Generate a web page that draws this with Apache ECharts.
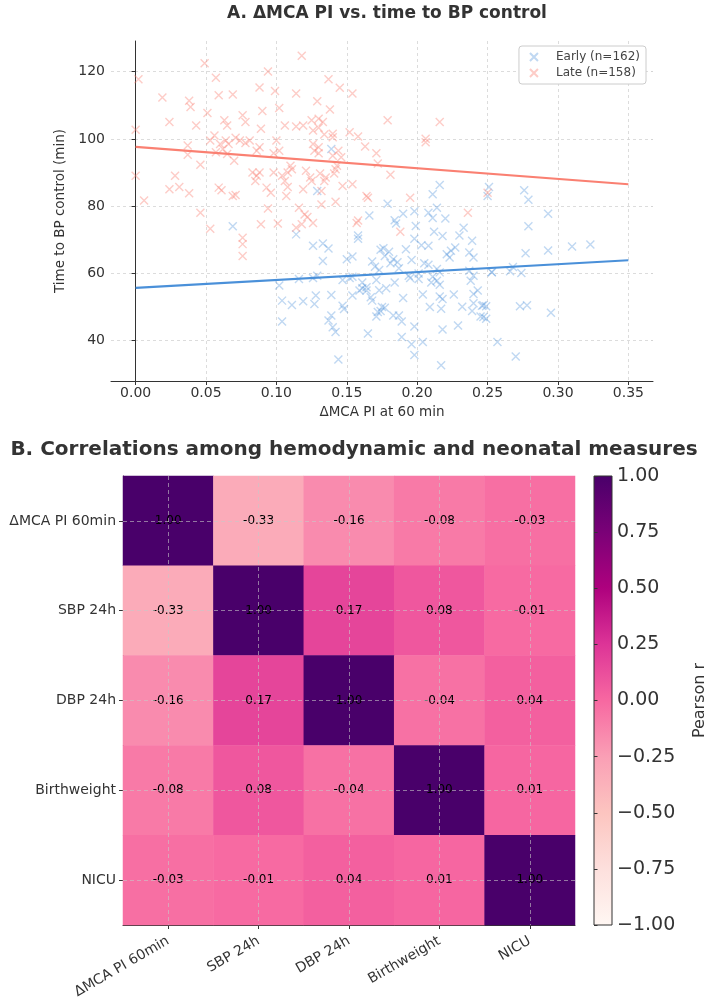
<!DOCTYPE html>
<html>
<head>
<meta charset="utf-8">
<script src="https://cdn.jsdelivr.net/npm/echarts@6/dist/echarts.min.js"></script>
<style>
  html, body { margin: 0; padding: 0; background: #fff; }
  #chart { width: 709px; height: 1002px; }
</style>
</head>
<body>
<div id="chart"></div>
<script>
// ---- panel A data: [ΔMCA PI at 60 min, time to BP control (min)]
const earlyPts = [
  [0.129, 84.5], [0.139, 97.0], [0.216, 86.3], [0.211, 83.5], [0.251, 85.7], [0.250, 83.0],
  [0.069, 74.0], [0.114, 71.6], [0.102, 56.4], [0.104, 51.9], [0.111, 50.6], [0.104, 45.7],
  [0.179, 80.7], [0.166, 77.2], [0.184, 75.8], [0.185, 74.8], [0.190, 77.7], [0.199, 74.1],
  [0.198, 78.5], [0.208, 78.0], [0.214, 79.5], [0.211, 76.5], [0.220, 76.3], [0.233, 73.6],
  [0.212, 72.4], [0.218, 71.1], [0.230, 71.3], [0.198, 70.3], [0.158, 71.3], [0.158, 70.3],
  [0.126, 68.2], [0.133, 68.9], [0.137, 67.4], [0.133, 63.7], [0.150, 64.2], [0.154, 65.0],
  [0.176, 67.5], [0.174, 67.0], [0.180, 66.4], [0.183, 64.2], [0.181, 63.0], [0.186, 63.3],
  [0.187, 61.5], [0.192, 67.2], [0.196, 64.0], [0.168, 63.5], [0.170, 62.0], [0.173, 61.0],
  [0.177, 65.2], [0.205, 63.0], [0.208, 62.6], [0.203, 68.4], [0.208, 68.2], [0.214, 61.3],
  [0.216, 60.3], [0.211, 59.0], [0.214, 57.8], [0.216, 56.6], [0.221, 65.7], [0.224, 66.7],
  [0.227, 67.7], [0.223, 64.7], [0.239, 69.7], [0.237, 66.2], [0.240, 64.7], [0.237, 60.8],
  [0.240, 59.3], [0.238, 57.8], [0.253, 60.3], [0.243, 54.9], [0.240, 53.9], [0.226, 53.7],
  [0.232, 50.1], [0.240, 51.1], [0.246, 50.4], [0.239, 48.8], [0.245, 47.2], [0.229, 44.5],
  [0.218, 43.3], [0.217, 32.7], [0.209, 50.0], [0.217, 49.5], [0.216, 53.1], [0.218, 52.4],
  [0.204, 53.7], [0.201, 58.3], [0.201, 60.0], [0.195, 58.6], [0.194, 59.3], [0.190, 52.7],
  [0.183, 47.5], [0.187, 47.5], [0.189, 45.7], [0.198, 44.2], [0.198, 35.7], [0.196, 38.9],
  [0.204, 39.6], [0.189, 41.1], [0.174, 48.8], [0.175, 50.0], [0.177, 49.8], [0.171, 47.2],
  [0.172, 48.5], [0.168, 51.9], [0.167, 52.9], [0.164, 55.9], [0.164, 54.9], [0.161, 57.3],
  [0.159, 54.9], [0.154, 53.4], [0.147, 50.4], [0.148, 49.4], [0.139, 47.5], [0.137, 46.0],
  [0.140, 44.0], [0.142, 42.6], [0.165, 42.1], [0.144, 34.4], [0.127, 50.9], [0.128, 53.4],
  [0.119, 51.7], [0.139, 53.6], [0.147, 58.0], [0.152, 58.6], [0.116, 58.3], [0.129, 59.3],
  [0.126, 58.6], [0.171, 58.0], [0.154, 59.0], [0.161, 55.6], [0.173, 55.0], [0.178, 55.6],
  [0.184, 57.3], [0.210, 57.3], [0.276, 84.7], [0.279, 81.9], [0.293, 77.7], [0.279, 74.0],
  [0.277, 66.0], [0.293, 66.8], [0.310, 68.0], [0.323, 68.6], [0.253, 60.4], [0.266, 60.6],
  [0.268, 61.9], [0.274, 60.1], [0.247, 50.5], [0.249, 50.2], [0.247, 47.0], [0.249, 46.5],
  [0.273, 50.2], [0.278, 50.5], [0.295, 48.3], [0.257, 39.6], [0.270, 35.3]
];
const latePts = [
  [0.002, 117.7], [0.049, 122.5], [0.118, 124.7], [0.057, 118.2], [0.094, 120.0], [0.019, 112.3],
  [0.038, 111.3], [0.039, 109.5], [0.059, 113.0], [0.069, 113.2], [0.088, 115.3], [0.099, 114.2],
  [0.114, 113.5], [0.129, 111.2], [0.051, 107.7], [0.090, 108.3], [0.102, 109.2], [0.076, 107.0],
  [0.024, 105.0], [0.043, 104.0], [0.063, 105.5], [0.065, 104.0], [0.078, 105.0], [0.089, 103.0],
  [0.106, 104.0], [0.114, 103.7], [0.119, 104.0], [0.125, 105.5], [0.126, 102.5], [0.130, 103.3],
  [0.000, 102.7], [0.053, 99.5], [0.056, 101.0], [0.060, 98.5], [0.064, 99.5], [0.066, 98.5],
  [0.071, 100.3], [0.074, 99.5], [0.078, 98.8], [0.081, 99.5], [0.100, 99.5], [0.102, 96.5],
  [0.037, 98.0], [0.037, 95.3], [0.057, 96.0], [0.062, 97.0], [0.065, 95.5], [0.070, 93.5],
  [0.046, 92.3], [0.086, 96.5], [0.088, 97.5], [0.098, 95.7], [0.126, 98.5], [0.127, 96.5],
  [0.130, 95.7], [0.000, 89.0], [0.028, 89.0], [0.024, 85.0], [0.031, 85.7], [0.038, 83.8],
  [0.059, 85.5], [0.061, 84.7], [0.069, 83.0], [0.071, 83.3], [0.083, 90.0], [0.086, 89.0],
  [0.085, 87.5], [0.088, 90.0], [0.093, 85.5], [0.096, 84.0], [0.098, 90.0], [0.104, 89.0],
  [0.106, 87.5], [0.108, 90.0], [0.110, 92.0], [0.111, 91.0], [0.108, 85.7], [0.119, 85.0],
  [0.121, 90.5], [0.124, 88.5], [0.125, 87.5], [0.006, 81.7], [0.107, 83.0], [0.137, 117.7],
  [0.145, 115.2], [0.154, 113.5], [0.138, 108.7], [0.179, 105.5], [0.216, 105.0], [0.130, 106.0],
  [0.133, 105.0], [0.134, 101.3], [0.140, 101.5], [0.140, 100.5], [0.152, 102.0], [0.158, 100.7],
  [0.206, 100.0], [0.206, 99.0], [0.130, 97.5], [0.144, 96.5], [0.163, 97.7], [0.171, 95.7],
  [0.140, 95.0], [0.146, 94.5], [0.172, 92.7], [0.131, 89.7], [0.135, 88.5], [0.134, 87.5],
  [0.141, 89.7], [0.142, 91.0], [0.143, 92.0], [0.147, 86.0], [0.154, 86.5], [0.181, 89.3],
  [0.132, 84.5], [0.164, 83.0], [0.165, 82.5], [0.195, 82.5], [0.250, 84.0], [0.046, 78.0],
  [0.053, 73.3], [0.089, 74.6], [0.094, 79.3], [0.101, 74.8], [0.076, 70.6], [0.076, 68.7],
  [0.076, 65.2], [0.114, 73.6], [0.116, 79.5], [0.132, 80.5], [0.142, 81.3], [0.120, 77.5],
  [0.122, 76.8], [0.126, 75.0], [0.118, 74.6], [0.157, 75.0], [0.158, 75.7], [0.188, 72.4],
  [0.236, 78.0]
];
// fitted lines, at x = 0 and x = 0.35
const fitX = [0, 0.35];
const earlyFitY = [55.7, 63.9];
const lateFitY = [97.6, 86.5];

// ---- panel B data
const measures = ['ΔMCA PI 60min', 'SBP 24h', 'DBP 24h', 'Birthweight', 'NICU'];
const corr = [
  [1.00, -0.33, -0.16, -0.08, -0.03],
  [-0.33, 1.00, 0.17, 0.08, -0.01],
  [-0.16, 0.17, 1.00, -0.04, 0.04],
  [-0.08, 0.08, -0.04, 1.00, 0.01],
  [-0.03, -0.01, 0.04, 0.01, 1.00]
];
const rdpu = ['#fff7f3', '#fde0dd', '#fcc5c0', '#fa9fb5', '#f768a1', '#dd3497', '#ae017e', '#7a0177', '#49006a'];

const EARLY = '#4a90d9';
const LATE = '#fa8072';
const xMark = 'path://M0,0L10,10M10,0L0,10';
const font = 'DejaVu Sans';

const heatData = [];
corr.forEach(function (row, r) {
  row.forEach(function (v, c) {
    heatData.push([c, r, v]);
  });
});

const fitLine = function (ys) {
  return fitX.map(function (x, i) { return [x, ys[i]]; });
};

const gridLine = { show: true, showMinLine: false, showMaxLine: false,
  lineStyle: { type: [3, 3], color: '#d4d4d4', width: 0.8 } };

const chart = echarts.init(document.getElementById('chart'));
const option = {
  animation: false,
  backgroundColor: '#fff',
  textStyle: { fontFamily: font },
  title: [
    { text: 'A. ΔMCA PI vs. time to BP control', left: 382, top: 0, textAlign: 'center',
      textStyle: { fontSize: 17, fontWeight: 'bold', color: '#333', fontFamily: font } },
    { text: 'B. Correlations among hemodynamic and neonatal measures', left: 349, top: 435, textAlign: 'center',
      textStyle: { fontSize: 20, fontWeight: 'bold', color: '#333', fontFamily: font } }
  ],
  legend: {
    orient: 'vertical', right: 63, top: 46,
    data: ['Early (n=162)', 'Late (n=158)'],
    itemWidth: 12, itemHeight: 8, itemGap: 4,
    padding: [5, 6, 5, 10],
    borderColor: '#ccc', borderWidth: 1, borderRadius: 3, backgroundColor: '#fff',
    textStyle: { fontSize: 12, color: '#444', fontFamily: font, padding: [0, 0, 0, 11] }
  },
  grid: [
    { left: 111, top: 41, width: 542, height: 340 },
    { left: 123, top: 476, width: 452, height: 449 },
    { left: 594, top: 476, width: 22, height: 449, show: true, borderColor: '#333', borderWidth: 1,
      backgroundColor: new echarts.graphic.LinearGradient(0, 0, 0, 1,
        rdpu.slice().reverse().map(function (c, i) { return { offset: i / (rdpu.length - 1), color: c }; })) }
  ],
  xAxis: [
    { type: 'value', gridIndex: 0, min: -0.0175, max: 0.3675, splitNumber: 8,
      name: 'ΔMCA PI at 60 min', nameLocation: 'middle', nameGap: 24,
      nameTextStyle: { fontSize: 13.5, color: '#333' },
      axisLine: { lineStyle: { color: '#333' } },
      axisTick: { show: true, length: 4, lineStyle: { color: '#333' } },
      axisLabel: { fontSize: 14, color: '#333', margin: 5, showMinLabel: false, showMaxLabel: false,
        formatter: function (v) { return v.toFixed(2); } },
      splitLine: gridLine },
    { type: 'category', gridIndex: 1, data: measures, position: 'bottom',
      axisLine: { lineStyle: { color: '#333' } },
      axisTick: { show: true, alignWithLabel: true, length: 4, lineStyle: { color: '#333' } },
      axisLabel: { rotate: 30, interval: 0, fontSize: 14, color: '#333', margin: 15 },
      splitLine: { show: false } },
    { type: 'value', gridIndex: 2, show: false, min: 0, max: 1 }
  ],
  yAxis: [
    { type: 'value', gridIndex: 0, min: 28.0, max: 129.1, splitNumber: 5,
      name: 'Time to BP control (min)', nameLocation: 'middle', nameGap: 40,
      nameTextStyle: { fontSize: 13.5, color: '#333' },
      axisLine: { show: true, lineStyle: { color: '#333' } },
      axisTick: { show: true, length: 4, lineStyle: { color: '#333' } },
      axisLabel: { fontSize: 14, color: '#333', margin: 6, showMinLabel: false, showMaxLabel: false },
      splitLine: gridLine },
    { type: 'category', gridIndex: 1, data: measures, inverse: true,
      axisLine: { show: true, lineStyle: { color: '#333' } },
      axisTick: { show: true, alignWithLabel: true, length: 4, lineStyle: { color: '#333' } },
      axisLabel: { fontSize: 14, color: '#333', margin: 7 },
      splitLine: { show: false } },
    { type: 'value', gridIndex: 2, position: 'right', min: -1, max: 1, interval: 0.25,
      name: 'Pearson r', nameLocation: 'middle', nameGap: 80, nameRotate: 90,
      nameTextStyle: { fontSize: 16, color: '#333' },
      axisLine: { show: false },
      axisTick: { show: true, length: 3.5, lineStyle: { color: '#333' } },
      axisLabel: { fontSize: 19, color: '#333', margin: 5,
        formatter: function (v) { return v.toFixed(2).replace('-', '\u2212'); } },
      splitLine: { show: false } }
  ],
  visualMap: {
    type: 'continuous', show: false, min: -1, max: 1, seriesIndex: 4,
    inRange: { color: rdpu }
  },
  series: [
    { name: 'Early (n=162)', type: 'scatter', xAxisIndex: 0, yAxisIndex: 0,
      data: earlyPts, symbol: xMark, symbolSize: 8,
      itemStyle: { color: EARLY, borderColor: EARLY, borderWidth: 1.4, opacity: 0.35 } },
    { name: 'Late (n=158)', type: 'scatter', xAxisIndex: 0, yAxisIndex: 0,
      data: latePts, symbol: xMark, symbolSize: 8,
      itemStyle: { color: LATE, borderColor: LATE, borderWidth: 1.4, opacity: 0.4 } },
    { name: 'Early fit', type: 'line', xAxisIndex: 0, yAxisIndex: 0, z: 5,
      data: fitLine(earlyFitY), showSymbol: false, silent: true,
      lineStyle: { color: EARLY, width: 2.2 } },
    { name: 'Late fit', type: 'line', xAxisIndex: 0, yAxisIndex: 0, z: 5,
      data: fitLine(lateFitY), showSymbol: false, silent: true,
      lineStyle: { color: LATE, width: 2.2 } },
    { name: 'Pearson r', type: 'heatmap', xAxisIndex: 1, yAxisIndex: 1,
      data: heatData,
      label: { show: true, color: '#000', fontSize: 12, fontFamily: font,
        formatter: function (p) { return p.value[2].toFixed(2); } },
      markLine: {
        silent: true, symbol: 'none', label: { show: false },
        lineStyle: { type: [4, 3], color: 'rgba(200,200,200,0.75)', width: 0.8 },
        data: measures.map(function (m) { return { xAxis: m }; })
          .concat(measures.map(function (m) { return { yAxis: m }; }))
      } }
  ]
};
chart.setOption(option);
</script>
</body>
</html>
